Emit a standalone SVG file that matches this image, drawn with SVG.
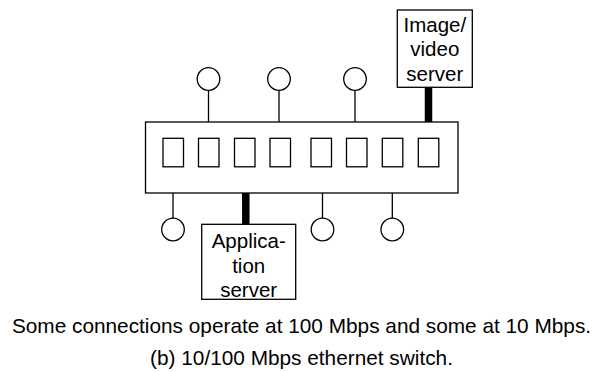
<svg xmlns="http://www.w3.org/2000/svg" width="603" height="372" viewBox="0 0 603 372">
<style>
.ln{stroke:#000;stroke-width:1.3;fill:none}
.box{stroke:#000;stroke-width:1.3;fill:#fff}
.thick{stroke:#000;stroke-width:7.5;fill:none}
text{font-family:"Liberation Sans",Arial,sans-serif;fill:#000}
.bt{font-size:20.5px;text-anchor:middle}
.cap{font-size:20.8px;text-anchor:middle}
</style>
<rect width="603" height="372" fill="#fff"/>
<g id="connectors">
<line class="ln" x1="208.5" y1="90.3" x2="208.5" y2="138.3"/>
<line class="ln" x1="279" y1="90.3" x2="279" y2="138.3"/>
<line class="ln" x1="355" y1="90.3" x2="355" y2="138.3"/>
<line class="ln" x1="173" y1="166.8" x2="173" y2="218.2"/>
<line class="ln" x1="322.5" y1="166.8" x2="322.5" y2="218.2"/>
<line class="ln" x1="392.3" y1="166.8" x2="392.3" y2="218.2"/>
<line class="thick" x1="428.5" y1="87.3" x2="428.5" y2="138.3"/>
<line class="thick" x1="245.8" y1="166.8" x2="245.8" y2="224.3"/>
</g>
<g id="switch">
<rect class="box" x="145.5" y="122" width="312.5" height="71" fill="none"/>
</g>
<g id="ports">
<rect class="box" x="163" y="138.3" width="20.5" height="28.5"/>
<rect class="box" x="198.5" y="138.3" width="20.5" height="28.5"/>
<rect class="box" x="234.5" y="138.3" width="20.5" height="28.5"/>
<rect class="box" x="270" y="138.3" width="20.5" height="28.5"/>
<rect class="box" x="311" y="138.3" width="20.5" height="28.5"/>
<rect class="box" x="346.5" y="138.3" width="20.5" height="28.5"/>
<rect class="box" x="382.3" y="138.3" width="20.5" height="28.5"/>
<rect class="box" x="418.3" y="138.3" width="20.5" height="28.5"/>
</g>
<g id="host-top-1"><circle class="box" cx="208.5" cy="79" r="11.3"/></g>
<g id="host-top-2"><circle class="box" cx="279" cy="79" r="11.3"/></g>
<g id="host-top-3"><circle class="box" cx="355" cy="79" r="11.3"/></g>
<g id="host-bottom-1"><circle class="box" cx="173" cy="229.5" r="11.3"/></g>
<g id="host-bottom-2"><circle class="box" cx="322.5" cy="229.5" r="11.3"/></g>
<g id="host-bottom-3"><circle class="box" cx="392.3" cy="229.5" r="11.3"/></g>
<g id="image-video-server">
<rect class="box" x="397.3" y="10" width="75" height="77.3"/>
<text class="bt" x="434.8" y="31.5">Image/</text>
<text class="bt" x="434.8" y="56">video</text>
<text class="bt" x="434.8" y="80.5">server</text>
</g>
<g id="application-server">
<rect class="box" x="201.7" y="224.3" width="94" height="75"/>
<text class="bt" x="248.7" y="248.3">Applica-</text>
<text class="bt" x="248.7" y="273">tion</text>
<text class="bt" x="248.7" y="297">server</text>
</g>
<g id="captions">
<text class="cap" x="301.5" y="332.5">Some connections operate at 100 Mbps and some at 10 Mbps.</text>
<text class="cap" x="301.5" y="365">(b) 10/100 Mbps ethernet switch.</text>
</g>
</svg>
